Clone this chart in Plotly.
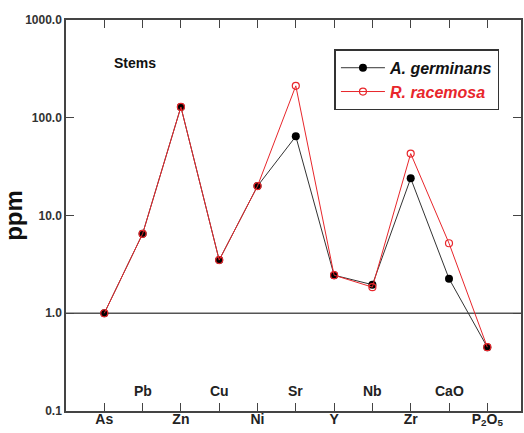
import math
import plotly.graph_objects as go

elements = ["As", "Pb", "Zn", "Cu", "Ni", "Sr", "Y", "Nb", "Zr", "CaO", "P<sub>2</sub>O<sub>5</sub>"]
a_germinans = [1.0, 6.5, 129, 3.5, 20, 64.5, 2.45, 1.96, 24, 2.26, 0.45]
r_racemosa = [1.0, 6.5, 129, 3.5, 20, 212, 2.45, 1.85, 43, 5.2, 0.45]
y_ticks = [0.1, 1, 10, 100, 1000]
y_ticktext = ["0.1", "1.0", "10.0", "100.0", "1000.0"]

FONT = "Arial, Liberation Sans, sans-serif"
RED = "#e8262b"
idx = list(range(len(elements)))

fig = go.Figure()
fig.add_trace(go.Scatter(
    x=idx, y=a_germinans, mode="lines+markers",
    name="<b><i>A. germinans</i></b>",
    line=dict(color="#333333", width=1),
    marker=dict(color="black", size=8, symbol="circle"),
))
fig.add_trace(go.Scatter(
    x=idx, y=r_racemosa, mode="lines+markers",
    name='<span style="color:#e8262b"><b><i>R. racemosa</i></b></span>',
    line=dict(color=RED, width=1),
    marker=dict(color=RED, size=7, symbol="circle-open",
                line=dict(color=RED, width=1.2)),
))

# horizontal reference line at 1.0
fig.add_shape(type="line", xref="paper", yref="y", x0=0, x1=1, y0=1, y1=1,
              line=dict(color="#555555", width=1.3), layer="below")

ticktext = ["<b>%s</b>" % e if i % 2 == 0 else "" for i, e in enumerate(elements)]
ybottom = math.log10(y_ticks[0])
for i, e in enumerate(elements):
    if i % 2 == 1:
        fig.add_annotation(x=i, y=ybottom, yref="y", xref="x", text="<b>%s</b>" % e,
                           showarrow=False, yanchor="middle", yshift=20,
                           font=dict(family=FONT, size=14, color="#222222"))

fig.add_annotation(x=0.2, y=0.89, xref="x", yref="paper", text="<b>Stems</b>",
                   showarrow=False, xanchor="left", yanchor="middle",
                   font=dict(family=FONT, size=14, color="#111111"))

fig.update_xaxes(
    range=[-1.0, 10.88], tickvals=idx, ticktext=ticktext, automargin=False,
    ticks="inside", ticklen=8, tickcolor="#444444", tickwidth=1.2,
    showline=True, linecolor="#444444", linewidth=1.5, mirror="ticks",
    showgrid=False, zeroline=False, ticklabelstandoff=-6,
    tickfont=dict(family=FONT, size=14, color="#222222"),
)
fig.update_yaxes(
    type="log", range=[-1, 3], tickvals=y_ticks, automargin=False,
    ticktext=["<b>%s</b>" % t for t in y_ticktext],
    ticks="inside", ticklen=8, tickcolor="#444444", tickwidth=1.2,
    showline=True, linecolor="#444444", linewidth=1.5, mirror="ticks",
    showgrid=False, zeroline=False,
    tickfont=dict(family=FONT, size=12, color="#333333"),
    title=dict(text="<b>ppm</b>", font=dict(family=FONT, size=24, color="#111111"),
               standoff=6),
)

fig.update_layout(
    width=524, height=433,
    margin=dict(l=66, r=3, t=20, b=22),
    plot_bgcolor="white", paper_bgcolor="white",
    font=dict(family=FONT),
    legend=dict(x=0.59, y=0.925, xanchor="left", yanchor="top",
                bordercolor="#333333", borderwidth=1.5, bgcolor="white",
                font=dict(family=FONT, size=16, color="#111111"),
                tracegroupgap=0, itemwidth=44),
)

fig.write_html("out.html")
